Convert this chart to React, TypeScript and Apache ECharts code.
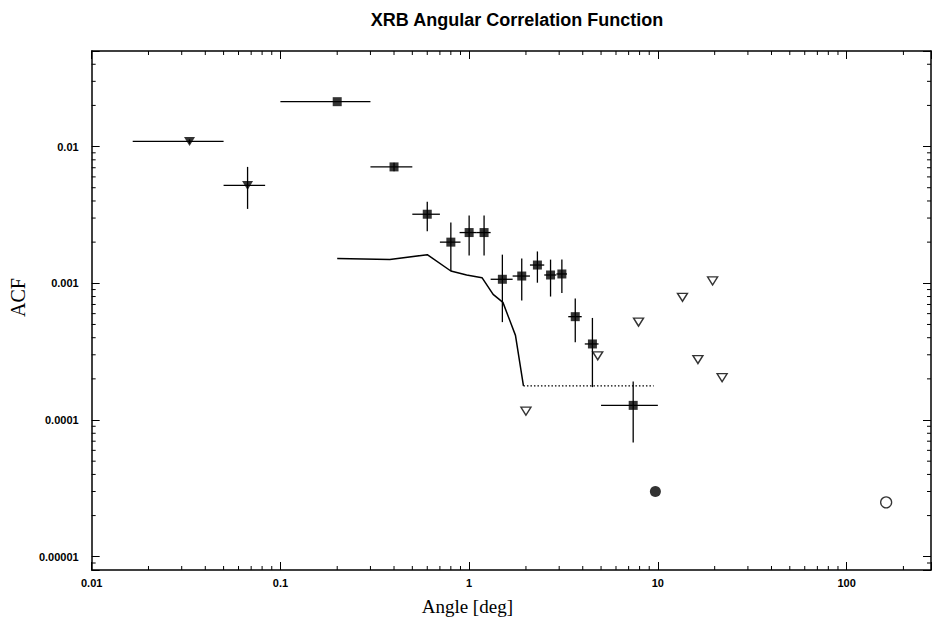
import React, { useEffect, useRef } from 'react';
import * as echarts from 'echarts';

// Axis extents and tick labels
const X_MIN = 0.01;
const X_MAX = 280;
const Y_MIN = 8e-6;
const Y_MAX = 0.05;
const xTickLabels = ['0.01', '0.1', '1', '10', '100'];
const yTickLabels = ['0.00001', '0.0001', '0.001', '0.01'];
const minorMantissas = [2, 3, 4, 5, 6, 7, 8, 9];
const xDecades = [0.01, 0.1, 1, 10, 100];
const yDecades = [1e-6, 1e-5, 1e-4, 1e-3, 1e-2];

// Filled down-triangles (small-angle points)
const triX = [0.033, 0.067];
const triY = [0.0109, 0.0052];
const triXLo = [0.0165, 0.05];
const triXHi = [0.05, 0.083];
const triYLo = [0.0105, 0.0035];
const triYHi = [0.0113, 0.0071];

// Filled squares
const sqX = [0.2, 0.4, 0.6, 0.8, 1.0, 1.2, 1.5, 1.9, 2.3, 2.7, 3.1, 3.65, 4.5, 7.4];
const sqY = [0.0213, 0.0071, 0.0032, 0.002, 0.00235, 0.00235, 0.00107, 0.00113, 0.00136, 0.00115, 0.00117, 0.00057, 0.00036, 0.000128];
const sqXLo = [0.1, 0.3, 0.5, 0.7, 0.89, 1.09, 1.3, 1.7, 2.1, 2.5, 2.9, 3.35, 4.1, 5.0];
const sqXHi = [0.3, 0.5, 0.7, 0.9, 1.09, 1.3, 1.7, 2.1, 2.5, 2.9, 3.3, 3.95, 4.85, 10.0];
const sqYLo = [0.0213, 0.0066, 0.0024, 0.00123, 0.0016, 0.0016, 0.00052, 0.00075, 0.00101, 0.0008, 0.00085, 0.00037, 0.000174, 0.0000684];
const sqYHi = [0.0213, 0.0076, 0.00395, 0.00278, 0.00313, 0.00313, 0.00162, 0.00152, 0.00171, 0.00149, 0.00149, 0.000775, 0.000558, 0.000191];

// Open down-triangles (upper limits)
const ulX = [2.0, 4.8, 7.9, 13.5, 16.3, 19.5, 21.9];
const ulY = [0.000116, 0.000295, 0.00052, 0.00079, 0.000277, 0.00104, 0.000204];

// Circles
const filledCircleX = [9.7];
const filledCircleY = [3.0e-5];
const openCircleX = [162];
const openCircleY = [2.5e-5];

// Model curve (solid) and its floor (dotted)
const modelX = [0.2, 0.38, 0.6, 0.8, 0.97, 1.17, 1.34, 1.51, 1.76, 1.94];
const modelY = [0.00152, 0.00149, 0.00162, 0.00123, 0.00115, 0.0011, 0.00083, 0.000725, 0.000416, 0.000178];
const floorX = [1.94, 9.5];
const floorY = [0.000178, 0.000178];

const zip = (a: number[], b: number[]) => a.map((v, i) => [v, b[i]]);

const decadeFormatter = (labels: string[]) => (v: number) => {
  const e = Math.log10(v);
  const r = Math.round(e);
  if (Math.abs(e - r) > 1e-6) return '';
  const found = labels.find((l) => Math.round(Math.log10(parseFloat(l))) === r);
  return found ?? '';
};

const errorBarRender = (params: any, api: any) => {
  const c = api.coord([api.value(0), api.value(1)]);
  const xl = api.coord([api.value(2), api.value(1)]);
  const xh = api.coord([api.value(3), api.value(1)]);
  const yl = api.coord([api.value(0), api.value(4)]);
  const yh = api.coord([api.value(0), api.value(5)]);
  const style = { stroke: '#000', lineWidth: 1.3 };
  return {
    type: 'group',
    children: [
      { type: 'line', shape: { x1: xl[0], y1: c[1], x2: xh[0], y2: c[1] }, style },
      { type: 'line', shape: { x1: c[0], y1: yl[1], x2: c[0], y2: yh[1] }, style },
    ],
  };
};

const minorTickRender = (params: any, api: any) => {
  const cs = params.coordSys;
  const p = api.coord([api.value(0), api.value(1)]);
  const kind = api.value(2);
  const style = { stroke: '#000', lineWidth: 1 };
  const len = 4;
  if (kind === 0) {
    return {
      type: 'group',
      children: [
        { type: 'line', shape: { x1: p[0], y1: cs.y + cs.height, x2: p[0], y2: cs.y + cs.height - len }, style },
        { type: 'line', shape: { x1: p[0], y1: cs.y, x2: p[0], y2: cs.y + len }, style },
      ],
    };
  }
  return {
    type: 'group',
    children: [
      { type: 'line', shape: { x1: cs.x, y1: p[1], x2: cs.x + len, y2: p[1] }, style },
      { type: 'line', shape: { x1: cs.x + cs.width, y1: p[1], x2: cs.x + cs.width - len, y2: p[1] }, style },
    ],
  };
};

export default function App() {
  const ref = useRef<HTMLDivElement>(null);

  useEffect(() => {
    if (!ref.current) return;
    const chart = echarts.init(ref.current, undefined, { renderer: 'svg' });

    const minorData: number[][] = [];
    xDecades.forEach((d) =>
      minorMantissas.forEach((m) => {
        const v = d * m;
        if (v > X_MIN && v < X_MAX) minorData.push([v, 0.001, 0]);
      })
    );
    yDecades.forEach((d) =>
      minorMantissas.forEach((m) => {
        const v = d * m;
        if (v > Y_MIN && v < Y_MAX) minorData.push([1, v, 1]);
      })
    );

    const triErr = triX.map((x, i) => [x, triY[i], triXLo[i], triXHi[i], triYLo[i], triYHi[i]]);
    const sqErr = sqX.map((x, i) => [x, sqY[i], sqXLo[i], sqXHi[i], sqYLo[i], sqYHi[i]]);

    const baseAxisLine = { onZero: false, lineStyle: { color: '#000', width: 1.5 } };
    const baseTick = { inside: true, length: 8, lineStyle: { color: '#000', width: 1 } };
    const labelStyle = {
      color: '#000',
      fontWeight: 'bold' as const,
      fontSize: 11,
      fontFamily: 'Liberation Sans, Arial, sans-serif',
    };

    chart.setOption({
      animation: false,
      backgroundColor: '#fff',
      title: {
        text: 'XRB Angular Correlation Function',
        left: 512,
        top: 6,
        textAlign: 'center',
        textStyle: {
          color: '#000',
          fontSize: 18,
          fontWeight: 'bold',
          fontFamily: 'Liberation Sans, Arial, sans-serif',
        },
      },
      grid: { left: 91, right: 2, top: 51, bottom: 45 },
      xAxis: [
        {
          type: 'log',
          logBase: 10,
          min: X_MIN,
          max: X_MAX,
          position: 'bottom',
          axisLine: baseAxisLine,
          axisTick: baseTick,
          axisLabel: { ...labelStyle, margin: 7, formatter: decadeFormatter(xTickLabels) },
          splitLine: { show: false },
          name: 'Angle [deg]',
          nameLocation: 'middle',
          nameGap: 27,
          nameTextStyle: {
            color: '#000',
            fontSize: 19,
            fontFamily: 'Liberation Serif, Times New Roman, serif',
            padding: [0, 88, 0, 0],
          },
        },
        {
          type: 'log',
          logBase: 10,
          min: X_MIN,
          max: X_MAX,
          position: 'top',
          axisLine: baseAxisLine,
          axisTick: baseTick,
          axisLabel: { show: false },
          splitLine: { show: false },
        },
      ],
      yAxis: [
        {
          type: 'log',
          logBase: 10,
          min: Y_MIN,
          max: Y_MAX,
          position: 'left',
          axisLine: baseAxisLine,
          axisTick: baseTick,
          axisLabel: { ...labelStyle, margin: 13, formatter: decadeFormatter(yTickLabels) },
          splitLine: { show: false },
          name: 'ACF',
          nameLocation: 'middle',
          nameGap: 57,
          nameRotate: 90,
          nameTextStyle: {
            color: '#000',
            fontSize: 20,
            fontFamily: 'Liberation Serif, Times New Roman, serif',
            padding: [0, 0, 0, 26],
          },
        },
        {
          type: 'log',
          logBase: 10,
          min: Y_MIN,
          max: Y_MAX,
          position: 'right',
          axisLine: baseAxisLine,
          axisTick: baseTick,
          axisLabel: { show: false },
          splitLine: { show: false },
        },
      ],
      series: [
        {
          type: 'custom',
          name: 'minor ticks',
          renderItem: minorTickRender,
          data: minorData,
          silent: true,
          clip: false,
          z: 1,
        },
        {
          type: 'line',
          name: 'model',
          data: zip(modelX, modelY),
          showSymbol: false,
          symbol: 'none',
          lineStyle: { color: '#000', width: 1.5 },
          z: 2,
        },
        {
          type: 'line',
          name: 'model floor',
          data: zip(floorX, floorY),
          showSymbol: false,
          symbol: 'none',
          lineStyle: { color: '#000', width: 1.2, type: [1.5, 2] },
          z: 2,
        },
        {
          type: 'custom',
          name: 'triangle errors',
          renderItem: errorBarRender,
          data: triErr,
          z: 3,
        },
        {
          type: 'custom',
          name: 'square errors',
          renderItem: errorBarRender,
          data: sqErr,
          z: 3,
        },
        {
          type: 'scatter',
          name: 'filled triangles',
          data: zip(triX, triY),
          symbol: 'triangle',
          symbolRotate: 180,
          symbolSize: [11, 9],
          itemStyle: { color: '#000' },
          z: 4,
        },
        {
          type: 'scatter',
          name: 'squares',
          data: zip(sqX, sqY),
          symbol: 'rect',
          symbolSize: 9,
          itemStyle: { color: '#000' },
          z: 4,
        },
        {
          type: 'scatter',
          name: 'upper limits',
          data: zip(ulX, ulY),
          symbol: 'triangle',
          symbolRotate: 180,
          symbolSize: [10, 8],
          itemStyle: { color: '#fff', borderColor: '#000', borderWidth: 1.4 },
          z: 4,
        },
        {
          type: 'scatter',
          name: 'filled circle',
          data: zip(filledCircleX, filledCircleY),
          symbol: 'circle',
          symbolSize: 11,
          itemStyle: { color: '#000' },
          z: 4,
        },
        {
          type: 'scatter',
          name: 'open circle',
          data: zip(openCircleX, openCircleY),
          symbol: 'circle',
          symbolSize: 11,
          itemStyle: { color: '#fff', borderColor: '#000', borderWidth: 1.3 },
          z: 4,
        },
      ],
    });

    return () => chart.dispose();
  }, []);

  return (
    <div
      ref={ref}
      style={{ position: 'fixed', left: 0, top: 0, width: 934, height: 621, background: '#fff' }}
    />
  );
}
